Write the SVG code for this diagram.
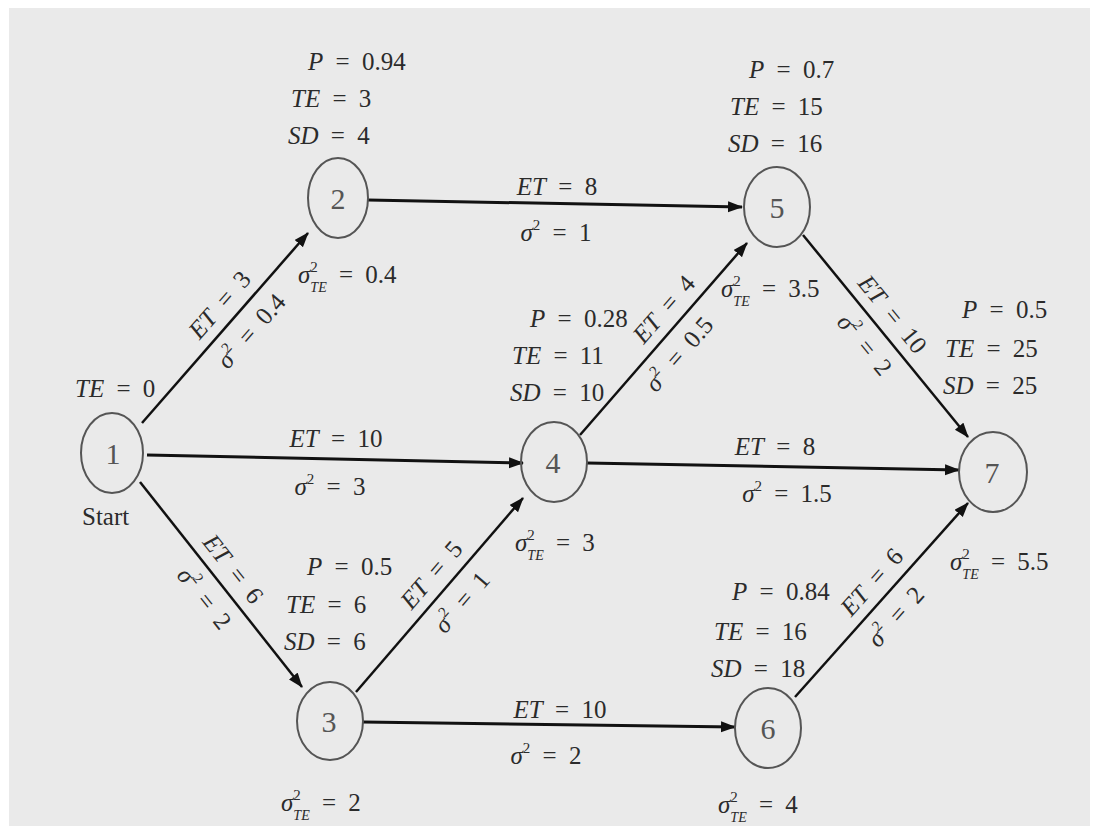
<svg xmlns="http://www.w3.org/2000/svg" width="1098" height="830" viewBox="0 0 1098 830">
<defs>
<marker id="ah" markerUnits="userSpaceOnUse" markerWidth="16" markerHeight="12" refX="14" refY="5.5" orient="auto">
<path d="M0,0 L15,5.5 L0,11 z" fill="#111"/>
</marker>
<style>
.bg{fill:#eaeaea}
.node ellipse{fill:none;stroke:#555;stroke-width:2}
.num{font-family:"Liberation Serif","Times New Roman",serif;font-size:30px;fill:#555;text-anchor:middle}
.lbl{font-family:"Liberation Serif","Times New Roman",serif;font-size:25px;fill:#2b2b2b;word-spacing:6px}
.mid{text-anchor:middle}
.i{font-style:italic}
.sup{font-size:15px}
.sub{font-size:14px;font-style:italic}
.edge{stroke:#111;fill:none;marker-end:url(#ah)}
.h{stroke-width:3}
.d{stroke-width:2.5}
</style>
</defs>
<rect width="1098" height="830" fill="#ffffff"/>
<rect class="bg" x="9" y="8" width="1081" height="818"/>

<g id="connectors">
  <path class="edge d" d="M142,423 L308,233"/>
  <path class="edge d" d="M140,482 L302,687"/>
  <path class="edge h" d="M147,455 L523,463"/>
  <path class="edge h" d="M368,200 L742,207"/>
  <path class="edge d" d="M356,692 L523,498"/>
  <path class="edge h" d="M363,722 L735,727"/>
  <path class="edge d" d="M580,435 L747,243"/>
  <path class="edge h" d="M587,463 L959,470"/>
  <path class="edge d" d="M803,235 L968,437"/>
  <path class="edge d" d="M795,697 L968,503"/>

  <g id="label-1-2" transform="translate(142,423) rotate(-48.86)">
    <text class="lbl mid" x="140" y="-11"><tspan class="i">ET</tspan> = 3</text>
    <text class="lbl mid" x="141" y="30"><tspan class="i">σ</tspan><tspan class="sup" dy="-11">2</tspan><tspan dy="11"> = 0.4</tspan></text>
  </g>
  <g id="label-1-3" transform="translate(140,482) rotate(51.68)">
    <text class="lbl mid" x="126" y="-11"><tspan class="i">ET</tspan> = 6</text>
    <text class="lbl mid" x="131" y="30"><tspan class="i">σ</tspan><tspan class="sup" dy="-11">2</tspan><tspan dy="11"> = 2</tspan></text>
  </g>
  <g id="label-1-4">
    <text class="lbl mid" x="336" y="447"><tspan class="i">ET</tspan> = 10</text>
    <text class="lbl mid" x="330" y="495"><tspan class="i">σ</tspan><tspan class="sup" dy="-11">2</tspan><tspan dy="11"> = 3</tspan></text>
  </g>
  <g id="label-2-5">
    <text class="lbl mid" x="557" y="195"><tspan class="i">ET</tspan> = 8</text>
    <text class="lbl mid" x="556" y="241"><tspan class="i">σ</tspan><tspan class="sup" dy="-11">2</tspan><tspan dy="11"> = 1</tspan></text>
  </g>
  <g id="label-3-4" transform="translate(356,692) rotate(-49.27)">
    <text class="lbl mid" x="138" y="-11"><tspan class="i">ET</tspan> = 5</text>
    <text class="lbl mid" x="137" y="30"><tspan class="i">σ</tspan><tspan class="sup" dy="-11">2</tspan><tspan dy="11"> = 1</tspan></text>
  </g>
  <g id="label-3-6">
    <text class="lbl mid" x="560" y="718"><tspan class="i">ET</tspan> =  10</text>
    <text class="lbl mid" x="546" y="764"><tspan class="i">σ</tspan><tspan class="sup" dy="-11">2</tspan><tspan dy="11"> = 2</tspan></text>
  </g>
  <g id="label-4-5" transform="translate(580,435) rotate(-48.98)">
    <text class="lbl mid" x="150" y="-11"><tspan class="i">ET</tspan> = 4</text>
    <text class="lbl mid" x="126" y="30"><tspan class="i">σ</tspan><tspan class="sup" dy="-11">2</tspan><tspan dy="11"> = 0.5</tspan></text>
  </g>
  <g id="label-4-7">
    <text class="lbl mid" x="775" y="455"><tspan class="i">ET</tspan> = 8</text>
    <text class="lbl mid" x="787" y="502"><tspan class="i">σ</tspan><tspan class="sup" dy="-11">2</tspan><tspan dy="11"> = 1.5</tspan></text>
  </g>
  <g id="label-5-7" transform="translate(803,235) rotate(50.75)">
    <text class="lbl mid" x="118" y="-11"><tspan class="i">ET</tspan> = 10</text>
    <text class="lbl mid" x="124" y="30"><tspan class="i">σ</tspan><tspan class="sup" dy="-11">2</tspan><tspan dy="11"> = 2</tspan></text>
  </g>
  <g id="label-6-7" transform="translate(795,697) rotate(-48.28)">
    <text class="lbl mid" x="137" y="-11"><tspan class="i">ET</tspan> = 6</text>
    <text class="lbl mid" x="127" y="30"><tspan class="i">σ</tspan><tspan class="sup" dy="-11">2</tspan><tspan dy="11"> = 2</tspan></text>
  </g>
</g>

<g id="node-1" class="node">
  <ellipse cx="112" cy="453" rx="31" ry="40"/>
  <text class="num" x="113" y="464">1</text>
  <text class="lbl" x="75" y="397"><tspan class="i">TE</tspan> = 0</text>
  <text class="lbl" x="82" y="525">Start</text>
</g>
<g id="node-2" class="node">
  <ellipse cx="338" cy="198" rx="30" ry="40"/>
  <text class="num" x="338" y="209">2</text>
  <text class="lbl" x="308" y="70"><tspan class="i">P</tspan> = 0.94</text>
  <text class="lbl" x="291" y="107"><tspan class="i">TE</tspan> = 3</text>
  <text class="lbl" x="288" y="144"><tspan class="i">SD</tspan> = 4</text>
  <text class="lbl" x="298" y="283"><tspan class="i">σ</tspan><tspan class="sup" dy="-11">2</tspan><tspan class="sub" dx="-7.5" dy="20">TE</tspan><tspan dy="-9"> = 0.4</tspan></text>
</g>
<g id="node-3" class="node">
  <ellipse cx="330" cy="721" rx="33" ry="39"/>
  <text class="num" x="329" y="732">3</text>
  <text class="lbl" x="307" y="575"><tspan class="i">P</tspan> = 0.5</text>
  <text class="lbl" x="286" y="613"><tspan class="i">TE</tspan> = 6</text>
  <text class="lbl" x="284" y="650"><tspan class="i">SD</tspan> = 6</text>
  <text class="lbl" x="281" y="811"><tspan class="i">σ</tspan><tspan class="sup" dy="-11">2</tspan><tspan class="sub" dx="-7.5" dy="20">TE</tspan><tspan dy="-9"> = 2</tspan></text>
</g>
<g id="node-4" class="node">
  <ellipse cx="554" cy="462" rx="33" ry="40"/>
  <text class="num" x="553" y="473">4</text>
  <text class="lbl" x="530" y="327"><tspan class="i">P</tspan> = 0.28</text>
  <text class="lbl" x="512" y="364"><tspan class="i">TE</tspan> = 11</text>
  <text class="lbl" x="510" y="401"><tspan class="i">SD</tspan> = 10</text>
  <text class="lbl" x="515" y="551"><tspan class="i">σ</tspan><tspan class="sup" dy="-11">2</tspan><tspan class="sub" dx="-7.5" dy="20">TE</tspan><tspan dy="-9"> = 3</tspan></text>
</g>
<g id="node-5" class="node">
  <ellipse cx="777" cy="207" rx="33" ry="40"/>
  <text class="num" x="777" y="218">5</text>
  <text class="lbl" x="749" y="78"><tspan class="i">P</tspan> = 0.7</text>
  <text class="lbl" x="730" y="115"><tspan class="i">TE</tspan> = 15</text>
  <text class="lbl" x="728" y="152"><tspan class="i">SD</tspan> = 16</text>
  <text class="lbl" x="721" y="297"><tspan class="i">σ</tspan><tspan class="sup" dy="-11">2</tspan><tspan class="sub" dx="-7.5" dy="20">TE</tspan><tspan dy="-9"> = 3.5</tspan></text>
</g>
<g id="node-6" class="node">
  <ellipse cx="768" cy="728" rx="33" ry="40"/>
  <text class="num" x="768" y="739">6</text>
  <text class="lbl" x="732" y="600"><tspan class="i">P</tspan> = 0.84</text>
  <text class="lbl" x="714" y="640"><tspan class="i">TE</tspan> = 16</text>
  <text class="lbl" x="711" y="677"><tspan class="i">SD</tspan> = 18</text>
  <text class="lbl" x="718" y="813"><tspan class="i">σ</tspan><tspan class="sup" dy="-11">2</tspan><tspan class="sub" dx="-7.5" dy="20">TE</tspan><tspan dy="-9"> = 4</tspan></text>
</g>
<g id="node-7" class="node">
  <ellipse cx="993" cy="472" rx="34" ry="40"/>
  <text class="num" x="992" y="483">7</text>
  <text class="lbl" x="962" y="318"><tspan class="i">P</tspan> = 0.5</text>
  <text class="lbl" x="945" y="357"><tspan class="i">TE</tspan> = 25</text>
  <text class="lbl" x="943" y="394"><tspan class="i">SD</tspan> = 25</text>
  <text class="lbl" x="950" y="570"><tspan class="i">σ</tspan><tspan class="sup" dy="-11">2</tspan><tspan class="sub" dx="-7.5" dy="20">TE</tspan><tspan dy="-9"> = 5.5</tspan></text>
</g>
</svg>
